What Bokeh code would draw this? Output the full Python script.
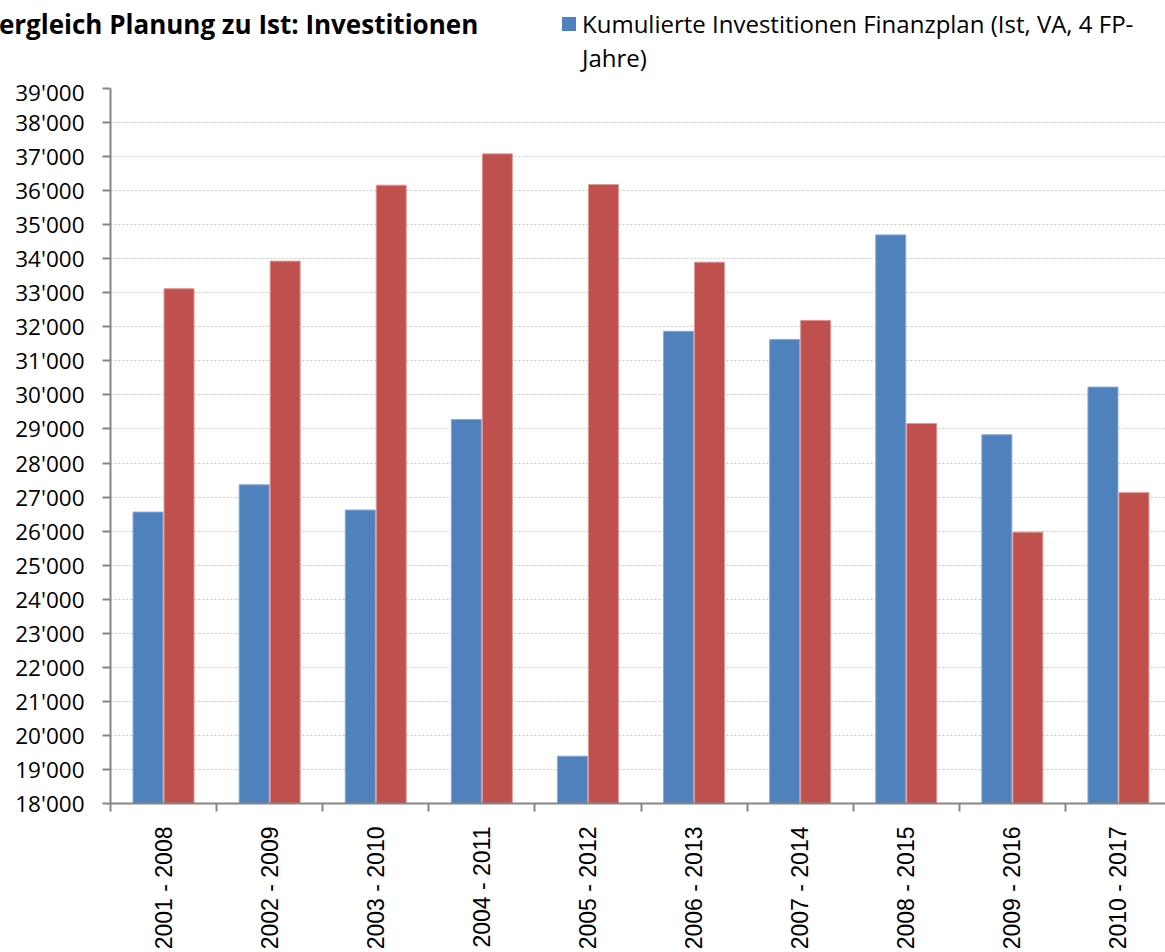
import math
from bokeh.plotting import figure
from bokeh.layouts import column
from bokeh.models import (Range1d, FixedTicker, CustomJSTickFormatter, ColumnDataSource, Div)
from bokeh.transform import dodge
from bokeh.embed import file_html
from bokeh.resources import INLINE

# ---------------- data ----------------
categories = ["2001 - 2008", "2002 - 2009", "2003 - 2010", "2004 - 2011", "2005 - 2012",
              "2006 - 2013", "2007 - 2014", "2008 - 2015", "2009 - 2016", "2010 - 2017"]
blue_values = [26560, 27360, 26620, 29280, 19390, 31870, 31630, 34700, 28830, 30230]
red_values = [33120, 33930, 36160, 37080, 36180, 33900, 32190, 29160, 25970, 27130]
y_ticks = [18000, 19000, 20000, 21000, 22000, 23000, 24000, 25000, 26000, 27000, 28000,
           29000, 30000, 31000, 32000, 33000, 34000, 35000, 36000, 37000, 38000, 39000]
y_tick_labels = ["18'000", "19'000", "20'000", "21'000", "22'000", "23'000", "24'000",
                 "25'000", "26'000", "27'000", "28'000", "29'000", "30'000", "31'000",
                 "32'000", "33'000", "34'000", "35'000", "36'000", "37'000", "38'000", "39'000"]
title_text = "Vergleich Planung zu Ist: Investitionen"
legend_lines = ["Kumulierte Investitionen Finanzplan (Ist, VA, 4 FP-", "Jahre)"]

BLUE = "#4F81BD"
RED = "#C0504D"

W = 1165
HEAD_H = 76
MAIN_H = 952 - HEAD_H
LEFT, TOP, BOTTOM = 110, 12, 147
unit_px = 106.1

# ---------------- header (title + legend) ----------------
head_html = (
    f'<div style="position:relative;width:{W}px;height:{HEAD_H}px;overflow:hidden;'
    f'font-family:\'Open Sans\';color:black;margin:0;padding:0;">'
    f'<span style="position:absolute;left:-18px;top:8px;font-weight:bold;font-size:26px;'
    f'line-height:32px;white-space:nowrap;">{title_text}</span>'
    f'<span style="position:absolute;left:562px;top:17px;width:14px;height:14px;'
    f'background:{BLUE};"></span>'
    f'<span style="position:absolute;left:582px;top:7px;font-size:24px;line-height:34px;'
    f'white-space:nowrap;">{legend_lines[0]}<br>{legend_lines[1]}</span>'
    f'</div>'
)
head = Div(text=head_html, width=W, height=HEAD_H, margin=(0, 0, 0, 0))

# ---------------- main chart ----------------
centers = [i + 0.5 for i in range(len(categories))]
bounds = [i for i in range(len(categories) + 1)]
src = ColumnDataSource(dict(x=centers, blue=blue_values, red=red_values))

frame_w = W - LEFT
p = figure(width=W, height=MAIN_H, output_backend="svg", toolbar_location=None,
           x_range=Range1d(0, frame_w / unit_px), y_range=Range1d(18000, 39000),
           min_border_left=LEFT, min_border_right=0, min_border_top=TOP,
           min_border_bottom=BOTTOM)
p.outline_line_color = None

bw = 0.283
off = 0.146
p.vbar(x=dodge("x", -off, range=p.x_range), top="blue", bottom=18000, width=bw,
       source=src, fill_color=BLUE, line_color="#8BAAD6", line_width=1)
p.vbar(x=dodge("x", off, range=p.x_range), top="red", bottom=18000, width=bw,
       source=src, fill_color=RED, line_color="#DC9A98", line_width=1)

xa = p.xaxis[0]
xa.ticker = FixedTicker(ticks=centers, minor_ticks=bounds)
xa.formatter = CustomJSTickFormatter(args=dict(catlabels=categories),
                                     code="const i = Math.floor(tick); return catlabels[i] || '';")
xa.major_tick_out = 0
xa.major_tick_in = 0
xa.minor_tick_out = 8
xa.minor_tick_in = 0
xa.minor_tick_line_color = "#868686"
xa.minor_tick_line_width = 2
xa.axis_line_color = "#868686"
xa.axis_line_width = 2
xa.major_label_orientation = math.pi / 2
xa.major_label_standoff = 15
xa.major_label_text_font = "Liberation Sans"
xa.major_label_text_font_size = "23px"
xa.major_label_text_color = "black"

ya = p.yaxis[0]
ya.ticker = FixedTicker(ticks=y_ticks, minor_ticks=[])
ya.formatter = CustomJSTickFormatter(args=dict(yvals=y_ticks, ylabels=y_tick_labels),
                                     code="const i = yvals.indexOf(tick); return i >= 0 ? ylabels[i] : '';")
ya.major_tick_out = 8
ya.major_tick_in = 0
ya.major_tick_line_color = "#868686"
ya.major_tick_line_width = 2
ya.axis_line_color = "#868686"
ya.axis_line_width = 2
ya.major_label_standoff = 18
ya.major_label_text_font = "Open Sans"
ya.major_label_text_font_size = "22.5px"
ya.major_label_text_color = "black"

p.xgrid.visible = False
p.ygrid.ticker = FixedTicker(ticks=y_ticks)
p.ygrid.grid_line_color = "#c4c4c4"
p.ygrid.grid_line_dash = "2 2"
p.ygrid.grid_line_width = 1

layout = column(head, p, spacing=0)
open("out.html", "w").write(file_html(layout, INLINE))
